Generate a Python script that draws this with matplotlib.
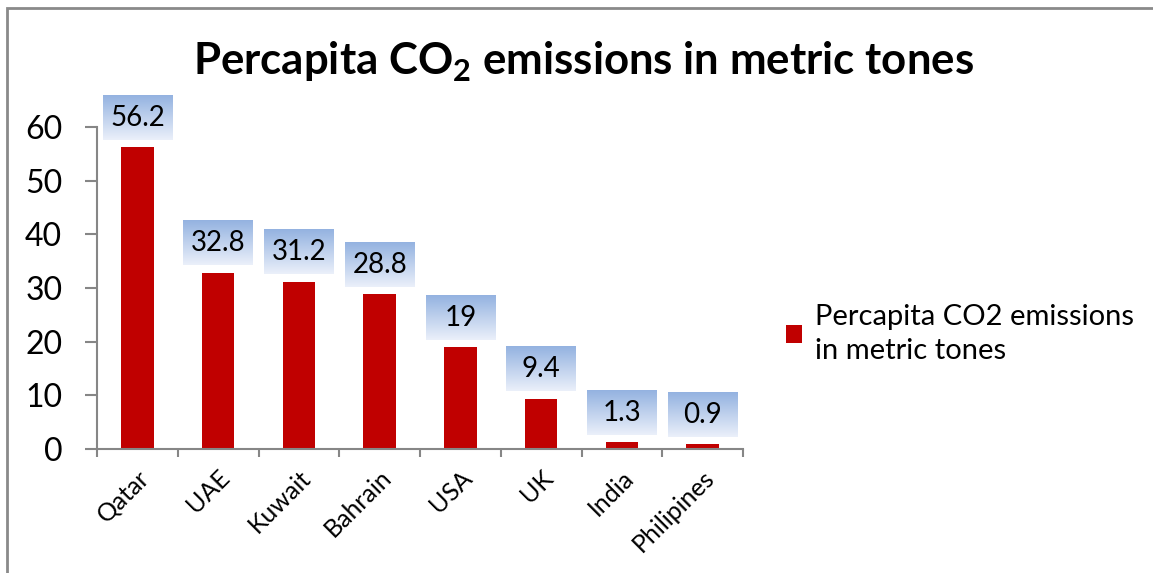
import matplotlib
matplotlib.use("Agg")
import matplotlib.pyplot as plt
import matplotlib.transforms as mtransforms
import numpy as np
from matplotlib.patches import Rectangle

plt.rcParams['font.family'] = ['Lato', 'DejaVu Sans']
plt.rcParams['mathtext.fontset'] = 'custom'
plt.rcParams['mathtext.rm'] = 'Lato'
plt.rcParams['mathtext.bf'] = 'Lato:bold'

countries = ['Qatar', 'UAE', 'Kuwait', 'Bahrain', 'USA', 'UK', 'India', 'Philipines']
emissions = [56.2, 32.8, 31.2, 28.8, 19, 9.4, 1.3, 0.9]
labels = ['56.2', '32.8', '31.2', '28.8', '19', '9.4', '1.3', '0.9']
series_name = 'Percapita CO2 emissions\nin metric tones'

fig = plt.figure(figsize=(11.53, 5.73), dpi=100)
ax = fig.add_axes([97/1153, 124/573, 646/1153, 322/573])

x = np.arange(len(countries))
ax.bar(x, emissions, width=0.4, color='#C00000', label=series_name, zorder=2)

# data label boxes with blue gradient
grad = np.linspace(0, 1, 64).reshape(-1, 1)
top_c = np.array([0.58, 0.70, 0.88])
bot_c = np.array([0.92, 0.94, 0.98])
img = top_c[None, None, :] * (1 - grad[:, :, None]) + bot_c[None, None, :] * grad[:, :, None]
img = img[::-1]  # origin lower: row 0 at bottom
bw = 0.86
bh = 8.2
gap = 1.4
for xi, v, lab in zip(x, emissions, labels):
    b = v + gap
    im = ax.imshow(img, extent=(xi - bw/2, xi + bw/2, b, b + bh), origin='lower',
                   aspect='auto', zorder=3)
    im.set_clip_on(False)
    ax.text(xi, b + bh/2, lab, ha='center', va='center', fontsize=20, zorder=4)

ax.set_xlim(-0.5, len(countries) - 0.5)
ax.set_ylim(0, 60)
ax.set_yticks(range(0, 61, 10))
ax.set_xticks(x)
ax.set_xticklabels(countries, rotation=45, ha='right', va='top', rotation_mode='anchor', fontsize=18)
shift = mtransforms.ScaledTranslation(5/100, 0, fig.dpi_scale_trans)
for t in ax.get_xticklabels():
    t.set_transform(t.get_transform() + shift)
ax.set_xticks(np.arange(-0.5, len(countries)), minor=True)
ax.tick_params(axis='x', which='major', length=0, pad=12)
ax.tick_params(axis='x', which='minor', length=6, color='#868686', width=1.5, direction='out')
ax.tick_params(axis='y', length=9, color='#868686', width=1.5, labelsize=23, pad=16)
for s in ['top', 'right']:
    ax.spines[s].set_visible(False)
for s in ['left', 'bottom']:
    ax.spines[s].set_color('#868686')
    ax.spines[s].set_linewidth(1.5)

leg = ax.legend(loc='center left', bbox_to_anchor=(786/1153, 1 - 334/573), bbox_transform=fig.transFigure,
                frameon=False, fontsize=21, handlelength=0.55, handleheight=0.55, handletextpad=0.45,
                borderpad=0, borderaxespad=0)
for t in leg.get_texts():
    t.set_linespacing(1.35)

fig.text(583/1153, 1 - 62/573, r"Percapita CO$_\mathbf{2}$ emissions in metric tones",
         ha='center', va='center', fontsize=31.5, fontweight='bold')

fig.patches.append(Rectangle((7/1153, -0.1), 1.2, 1.1 - 8/573, transform=fig.transFigure,
                             fill=False, edgecolor='#8a8a8a', linewidth=2))

fig.savefig('out.png', dpi=100)
